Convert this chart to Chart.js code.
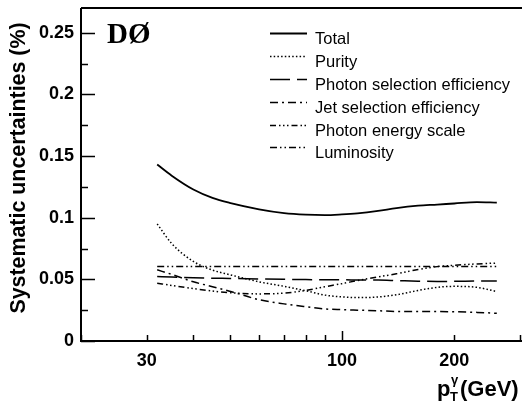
<!DOCTYPE html>
<html><head><meta charset="utf-8">
<script src="https://cdn.jsdelivr.net/npm/chart.js@4/dist/chart.umd.min.js"></script>
<style>html,body{margin:0;padding:0;background:#fff;}</style>
</head><body>
<canvas id="c" width="522" height="404"></canvas>
<script>
// ---- data ----
const pT = [32, 35, 40, 45, 50, 60, 70, 80, 90, 100, 110, 125, 140, 160, 180, 200, 230, 260];
const total = [0.1431, 0.1340, 0.1228, 0.1160, 0.1120, 0.1068, 0.1037, 0.1024, 0.1020, 0.1026, 0.1035, 0.1055, 0.1078, 0.1097, 0.1106, 0.1115, 0.1126, 0.1122];
const purity = [0.0949, 0.0790, 0.0645, 0.0575, 0.0538, 0.0480, 0.0443, 0.0408, 0.0372, 0.0358, 0.0352, 0.0357, 0.0375, 0.0410, 0.0435, 0.0443, 0.0435, 0.0401];
const photonSel = [0.0523, 0.0518, 0.0512, 0.0509, 0.0507, 0.0503, 0.0500, 0.0498, 0.0497, 0.0496, 0.0495, 0.0494, 0.0490, 0.0485, 0.0483, 0.0484, 0.0486, 0.0487];
const jetSel = [0.0577, 0.0540, 0.0480, 0.0440, 0.0404, 0.0335, 0.0301, 0.0278, 0.0260, 0.0254, 0.0250, 0.0245, 0.0240, 0.0240, 0.0239, 0.0237, 0.0232, 0.0225];
const photonScale = [0.0469, 0.0450, 0.0425, 0.0405, 0.0392, 0.0382, 0.0388, 0.0410, 0.0440, 0.0465, 0.0490, 0.0520, 0.0545, 0.0580, 0.0603, 0.0614, 0.0625, 0.0632];
const luminosity = [0.0605, 0.0605, 0.0605, 0.0605, 0.0605, 0.0605, 0.0605, 0.0605, 0.0605, 0.0605, 0.0605, 0.0605, 0.0605, 0.0605, 0.0605, 0.0605, 0.0605, 0.0605];
const seriesLabels = ["Total", "Purity", "Photon selection efficiency", "Jet selection efficiency", "Photon energy scale", "Luminosity"];
const xTickValues = [20, 30, 40, 50, 60, 70, 80, 90, 100, 200, 300];
const xTickLabels = [30, 100, 200];
const yTickValues = [0, 0.025, 0.05, 0.075, 0.1, 0.125, 0.15, 0.175, 0.2, 0.225, 0.25];
const yTickLabels = ["0", "0.05", "0.1", "0.15", "0.2", "0.25"];
const yTitle = "Systematic uncertainties (%)";
const expLabel = "DØ";

// ---- styles ----
const dashes = [[], [1.5, 2.2], [20, 7], [8, 4, 2, 4], [6, 3, 1.5, 2.5, 1.5, 2.5, 1.5, 3], [7, 3, 1.5, 3, 1.5, 3]];
const widths = [1.8, 1.5, 1.5, 1.5, 1.5, 1.5];
const allSeries = [total, purity, photonSel, jetSel, photonScale, luminosity];

const datasets = allSeries.map((s, i) => ({
  label: seriesLabels[i],
  data: pT.map((x, j) => ({x: x, y: s[j]})),
  borderColor: '#000',
  backgroundColor: '#000',
  borderWidth: widths[i],
  borderDash: dashes[i],
  pointRadius: 0,
  fill: false,
  cubicInterpolationMode: 'monotone'
}));

const BOLD = '"Liberation Sans", Arial, Helvetica, sans-serif';

const decor = {
  id: 'decor',
  afterDraw(chart) {
    const ctx = chart.ctx, a = chart.chartArea;
    const xs = chart.scales.x, ys = chart.scales.y;
    ctx.save();
    ctx.strokeStyle = '#000';
    ctx.lineWidth = 2;
    ctx.setLineDash([]);
    // frame
    ctx.beginPath();
    ctx.moveTo(a.left, a.top); ctx.lineTo(522, a.top);
    ctx.moveTo(a.left, a.top); ctx.lineTo(a.left, a.bottom);
    ctx.moveTo(a.left - 1, a.bottom); ctx.lineTo(522, a.bottom);
    ctx.stroke();
    // ticks (inward)
    ctx.lineWidth = 1.5;
    ctx.beginPath();
    xTickValues.forEach(v => {
      const px = Math.round(xs.getPixelForValue(v)) + 0.5;
      const len = (v === 100) ? 10 : 6;
      ctx.moveTo(px, a.bottom); ctx.lineTo(px, a.bottom - len);
    });
    yTickValues.forEach(v => {
      const py = Math.round(ys.getPixelForValue(v)) + 0.5;
      const major = Math.abs(v / 0.05 - Math.round(v / 0.05)) < 1e-6;
      ctx.moveTo(a.left, py); ctx.lineTo(a.left + (major ? 14 : 7), py);
    });
    ctx.stroke();
    // legend
    ctx.fillStyle = '#000';
    ctx.font = '16.5px ' + BOLD;
    ctx.textBaseline = 'alphabetic';
    ctx.textAlign = 'left';
    const rows = [38, 61, 84, 107, 129.5, 152];
    chart.data.datasets.forEach((ds, i) => {
      const y = rows[i];
      ctx.lineWidth = ds.borderWidth;
      ctx.setLineDash(ds.borderDash);
      ctx.beginPath();
      ctx.moveTo(270, Math.round(y - 5) + 0.5);
      ctx.lineTo(307, Math.round(y - 5) + 0.5);
      ctx.stroke();
      ctx.setLineDash([]);
      ctx.fillText(ds.label, 315, y + 6);
    });
    // experiment label
    ctx.font = 'bold 29px "Liberation Serif", "Times New Roman", serif';
    ctx.fillText(expLabel, 107, 43);
    // x-axis title: p_T^gamma (GeV)
    ctx.font = 'bold 22px ' + BOLD;
    ctx.fillText('p', 437, 396);
    ctx.font = 'bold 13px ' + BOLD;
    ctx.fillText('T', 450, 401);
    ctx.fillText('γ', 451, 384);
    ctx.font = 'bold 22px ' + BOLD;
    ctx.fillText('(GeV)', 460, 396);
    // y-axis title
    ctx.save();
    ctx.translate(19.5, 168);
    ctx.rotate(-Math.PI / 2);
    ctx.textAlign = 'center';
    ctx.textBaseline = 'middle';
    ctx.font = 'bold 21.4px ' + BOLD;
    ctx.fillText(yTitle, 0, 0);
    ctx.restore();
    ctx.restore();
  }
};

new Chart(document.getElementById('c'), {
  type: 'line',
  data: { datasets },
  options: {
    responsive: false,
    animation: false,
    layout: { padding: { top: 8, right: 2, left: 0, bottom: 0 } },
    plugins: { legend: { display: false }, tooltip: { enabled: false } },
    scales: {
      x: {
        type: 'logarithmic', min: 20, max: 300,
        afterBuildTicks: s => { s.ticks = xTickValues.map(v => ({value: v})); },
        afterFit: s => { s.height = 63; s.paddingLeft = 0; s.paddingRight = 0; },
        grid: { display: false, drawTicks: false },
        border: { display: false },
        ticks: {
          autoSkip: false, maxRotation: 0, padding: 9, color: '#000',
          font: { family: BOLD, size: 18, weight: 'bold' },
          callback: v => xTickLabels.includes(v) ? String(v) : ''
        }
      },
      y: {
        type: 'linear', min: 0, max: 0.27,
        afterBuildTicks: s => { s.ticks = yTickValues.map(v => ({value: v})); },
        afterFit: s => { s.width = 81; s.paddingTop = 0; s.paddingBottom = 0; },
        grid: { display: false, drawTicks: false },
        border: { display: false },
        ticks: {
          padding: 7, color: '#000',
          font: { family: BOLD, size: 18, weight: 'bold' },
          callback: v => {
            const idx = Math.round(v / 0.05);
            return (Math.abs(v / 0.05 - idx) < 1e-6) ? yTickLabels[idx] : '';
          }
        }
      }
    }
  },
  plugins: [decor]
});
</script>
</body></html>
